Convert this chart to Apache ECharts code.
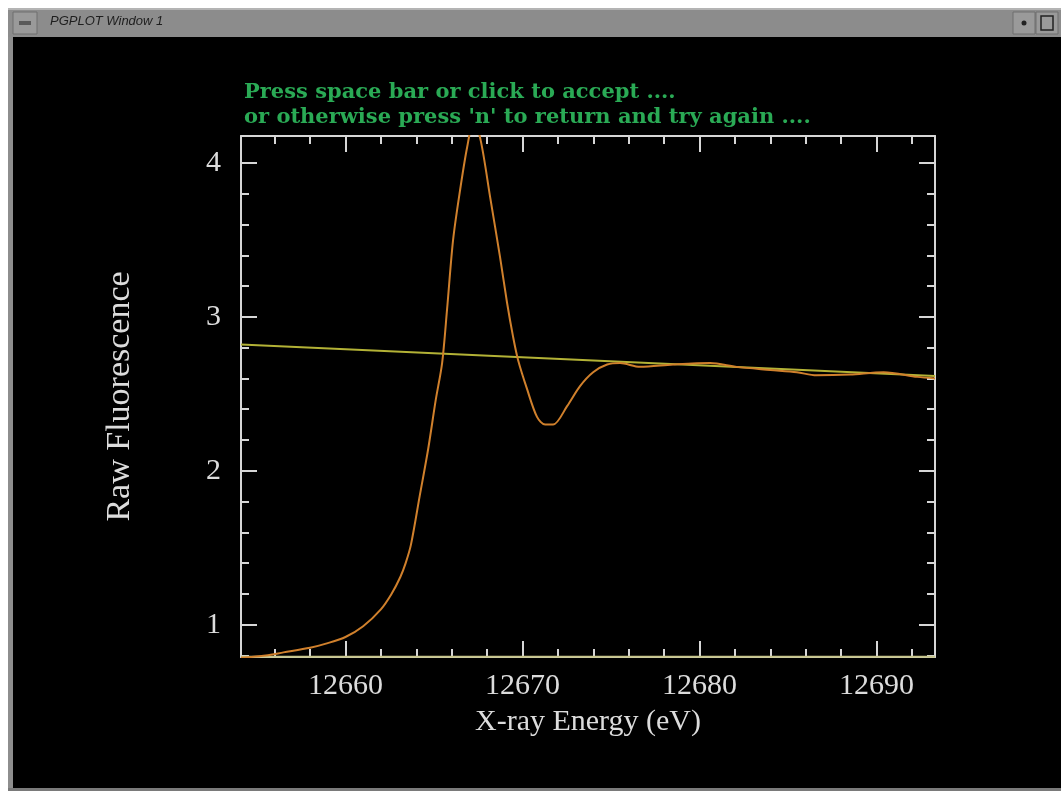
<!DOCTYPE html>
<html>
<head>
<meta charset="utf-8">
<title>PGPLOT Window 1</title>
<script src="https://cdn.jsdelivr.net/npm/echarts@6/dist/echarts.min.js"></script>
<style>
  html, body { margin: 0; padding: 0; background: #ffffff; }
  #chart { width: 1061px; height: 791px; }
</style>
</head>
<body>
<div id="chart"></div>
<script>
// raw fluorescence scan (energy eV, counts)
var scanData = [
  [12654.1, 0.785], [12655.5, 0.80], [12656.5, 0.82], [12658.0, 0.85],
  [12659.0, 0.88], [12660.0, 0.92], [12661.0, 0.99], [12662.0, 1.10],
  [12662.6, 1.20], [12663.1, 1.31], [12663.4, 1.40], [12663.7, 1.52],
  [12664.2, 1.84], [12664.67, 2.14], [12665.1, 2.46], [12665.46, 2.70],
  [12665.74, 3.05], [12666.08, 3.50], [12666.47, 3.82], [12666.87, 4.10],
  [12667.25, 4.28], [12667.65, 4.14], [12668.17, 3.78], [12668.73, 3.39],
  [12669.13, 3.09], [12669.47, 2.87], [12669.75, 2.72], [12670.26, 2.53],
  [12670.82, 2.35], [12671.28, 2.30], [12671.73, 2.30], [12672.52, 2.42],
  [12673.25, 2.55], [12673.99, 2.64], [12674.78, 2.69], [12675.51, 2.70],
  [12676.64, 2.675], [12678.5, 2.69], [12680.6, 2.70], [12682.1, 2.675],
  [12684.0, 2.655], [12685.5, 2.64], [12686.6, 2.62], [12688.5, 2.625],
  [12690.4, 2.64], [12692.3, 2.61], [12693.3, 2.60]
];
// fitted post-edge and pre-edge lines
var postEdge = [[12654.1, 2.82], [12693.3, 2.615]];
var preEdge = [[12654.1, 0.792], [12693.3, 0.792]];

var xMajorTicks = [12660, 12670, 12680, 12690];
var xMinorTicks = [12656, 12658, 12662, 12664, 12666, 12668, 12672, 12674, 12676,
                   12678, 12682, 12684, 12686, 12688, 12692];
var yMajorTicks = [1, 2, 3, 4];
var yMinorTicks = [0.8, 1.2, 1.4, 1.6, 1.8, 2.2, 2.4, 2.6, 2.8, 3.2, 3.4, 3.6, 3.8];

var promptLines = ['Press space bar or click to accept ....',
                   "or otherwise press 'n' to return and try again ...."];

var chart = echarts.init(document.getElementById('chart'));

var axisCol = '#d6d6d6';
var serif = '"Liberation Serif", "DejaVu Serif", serif';

function xAx(pos, ticks, len, showLine, showLabel) {
  return {
    type: 'value', position: pos, min: 12654.1, max: 12693.3,
    splitLine: { show: false },
    axisLine: { show: showLine, lineStyle: { color: axisCol, width: 2 } },
    axisTick: { show: true, inside: true, length: len, customValues: ticks,
                lineStyle: { color: axisCol, width: 2 } },
    axisLabel: { show: showLabel, customValues: ticks, color: '#dcdcdc',
                 fontFamily: serif, fontSize: 30, margin: 14,
                 formatter: function (v) { return String(v); } }
  };
}
function yAx(pos, ticks, len, showLine, showLabel) {
  return {
    type: 'value', position: pos, min: 0.79, max: 4.175,
    splitLine: { show: false },
    axisLine: { show: showLine, lineStyle: { color: axisCol, width: 2 } },
    axisTick: { show: true, inside: true, length: len, customValues: ticks,
                lineStyle: { color: axisCol, width: 2 } },
    axisLabel: { show: showLabel, customValues: ticks, color: '#dcdcdc',
                 fontFamily: serif, fontSize: 30, margin: 20 }
  };
}

var xAxes = [
  xAx('bottom', xMajorTicks, 16, true, true),
  xAx('bottom', xMinorTicks, 8, false, false),
  xAx('top', xMajorTicks, 16, true, false),
  xAx('top', xMinorTicks, 8, false, false)
];
xAxes[0].name = 'X-ray Energy (eV)';
xAxes[0].nameLocation = 'middle';
xAxes[0].nameGap = 50;
xAxes[0].nameTextStyle = { color: '#dcdcdc', fontFamily: serif, fontSize: 30 };

var yAxes = [
  yAx('left', yMajorTicks, 16, true, true),
  yAx('left', yMinorTicks, 8, false, false),
  yAx('right', yMajorTicks, 16, true, false),
  yAx('right', yMinorTicks, 8, false, false)
];
yAxes[0].name = 'Raw Fluorescence';
yAxes[0].nameLocation = 'middle';
yAxes[0].nameGap = 104;
yAxes[0].nameTextStyle = { color: '#dcdcdc', fontFamily: serif, fontSize: 34 };

var option = {
  backgroundColor: '#000000',
  animation: false,
  title: {
    text: promptLines.join('\n'),
    left: 239, top: 75,
    textStyle: { color: '#2aaa55', fontFamily: '"DejaVu Serif", serif', fontWeight: 'bold',
                 fontSize: 21, lineHeight: 25 }
  },
  grid: { left: 241, right: 126, top: 136, bottom: 134 },
  xAxis: xAxes,
  yAxis: yAxes,
  graphic: [
    { type: 'rect', shape: { x: 0, y: 0, width: 1061, height: 8 }, style: { fill: '#ffffff' } },
    { type: 'rect', shape: { x: 0, y: 0, width: 8, height: 791 }, style: { fill: '#ffffff' } },
    { type: 'rect', shape: { x: 8, y: 8, width: 5, height: 783 }, style: { fill: '#8e8e8e' } },
    { type: 'rect', shape: { x: 8, y: 788, width: 1053, height: 3 }, style: { fill: '#7a7a7a' } },
    { type: 'rect', shape: { x: 8, y: 8, width: 1053, height: 29 }, style: { fill: '#8c8c8c' } },
    { type: 'rect', shape: { x: 8, y: 8, width: 1053, height: 2 }, style: { fill: '#b4b4b4' } },
    { type: 'rect', shape: { x: 13, y: 12, width: 24, height: 22 }, style: { fill: '#9a9a9a', stroke: '#6e6e6e' } },
    { type: 'rect', shape: { x: 19, y: 21, width: 12, height: 4 }, style: { fill: '#5a5a5a' } },
    { type: 'text', left: 50, top: 15,
      style: { text: 'PGPLOT Window 1', fill: '#1e1e1e', font: 'italic 13px "Liberation Sans", sans-serif' } },
    { type: 'rect', shape: { x: 1013, y: 12, width: 22, height: 22 }, style: { fill: '#9a9a9a', stroke: '#6e6e6e' } },
    { type: 'circle', shape: { cx: 1024, cy: 23, r: 2.5 }, style: { fill: '#222222' } },
    { type: 'rect', shape: { x: 1036, y: 12, width: 22, height: 22 }, style: { fill: '#9a9a9a', stroke: '#6e6e6e' } },
    { type: 'rect', shape: { x: 1041, y: 16, width: 12, height: 14 }, style: { fill: 'none', stroke: '#222222', lineWidth: 1.5 } }
  ],
  series: [
    {
      name: 'post-edge', type: 'line', data: postEdge, symbol: 'none',
      lineStyle: { color: '#b3b236', width: 2 }
    },
    {
      name: 'pre-edge', type: 'line', data: preEdge, symbol: 'none', clip: false,
      lineStyle: { color: '#c6c48a', width: 2 }
    },
    {
      name: 'scan', type: 'line', data: scanData, symbol: 'none', smooth: 0.3,
      lineStyle: { color: '#d0802c', width: 2 }
    }
  ]
};

chart.setOption(option);
</script>
</body>
</html>
